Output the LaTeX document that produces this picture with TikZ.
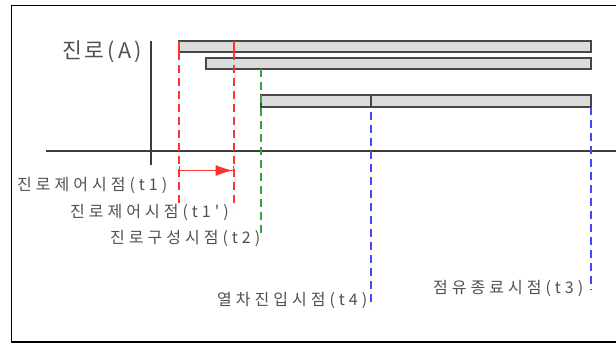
\documentclass[tikz,border=0pt]{standalone}
\usepackage{fontspec}
\setmainfont{Noto Sans CJK KR}
\newfontfamily\kfont[LetterSpace=25]{Noto Sans CJK KR}
\newfontfamily\kbig[LetterSpace=14]{Noto Sans CJK KR}
\usetikzlibrary{arrows.meta}
\definecolor{txt}{RGB}{80,80,80}
\definecolor{axis}{RGB}{60,60,60}
\definecolor{barfill}{RGB}{220,220,220}
\definecolor{barline}{RGB}{70,70,70}
\definecolor{dred}{RGB}{255,50,50}
\definecolor{dgreen}{RGB}{60,160,60}
\definecolor{dblue}{RGB}{70,70,255}
\begin{document}
\begin{tikzpicture}[x=1pt,y=-1pt,
  lbl/.style={anchor=west,inner sep=0pt,text=txt,font=\kfont\fontsize{16}{18}\selectfont},
  barbox/.style={draw=barline,fill=barfill,line width=1.4pt},
  axisline/.style={draw=axis,line width=1.3pt},
  dline/.style={line width=1.3pt,dash pattern=on 8pt off 5pt}]
\useasboundingbox (0,0) rectangle (616,345);
% frame
\draw[line width=1.3pt] (616,5.5) -- (11.5,5.5) -- (11.5,342) -- (616,342);
% axes
\coordinate (vtop) at (151,41);
\coordinate (vbot) at (151,165);
\coordinate (hl) at (46,151);
\coordinate (hr) at (616,151);
\draw[axisline] (vtop) -- (vbot);
\draw[axisline] (hl) -- (hr);
% bars
\draw[barbox] (179,41) rectangle (591,52);
\draw[barbox] (206,58) rectangle (591,69);
\draw[barbox] (261,95) rectangle (591,107);
\draw[barline,line width=1.4pt] (371,95) -- (371,107);
% labels
\node[anchor=west,inner sep=0pt,text=txt,font=\kbig\fontsize{21.5}{23}\selectfont] (A) at (62,52) {진로(A)};
\node[lbl] (t1) at (17,185) {진로제어시점(t1)};
\node[lbl] (t1p) at (70,212) {진로제어시점(t1')};
\node[lbl] (t2) at (110,238) {진로구성시점(t2)};
\node[lbl] (t4) at (217,300) {열차진입시점(t4)};
\node[lbl] (t3) at (433,288) {점유종료시점(t3)};
% red lines
\draw[dred,line width=1.3pt] (179,41) -- (179,52);
\draw[dred,line width=1.3pt] (234,41) -- (234,52);
\coordinate (r1a) at (179,52);
\coordinate (r1b) at (179,206);
\coordinate (r2a) at (234,52);
\coordinate (r2b) at (234,208);
\draw[dred,dline] (r1a) -- (r1b);
\draw[dred,dline] (r2a) -- (r2b);
\coordinate (aa) at (179,170.5);
\coordinate (ab) at (234,170.5);
\draw[dred,line width=1.3pt,arrows={Bar[width=9pt]-{Latex[length=17pt,width=11pt]Bar[width=9pt]}}] (aa) -- (ab);
% green line
\coordinate (ga) at (261,69);
\coordinate (gb) at (261,233);
\draw[dgreen,dline] (ga) -- (gb);
% blue lines
\coordinate (b1a) at (371,112);
\coordinate (b1b) at (371,307);
\coordinate (b2a) at (591,107);
\coordinate (b2b) at (591,290);
\draw[dblue,dline] (b1a) -- (b1b);
\draw[dblue,dline] (b2a) -- (b2b);
\end{tikzpicture}
\end{document}
